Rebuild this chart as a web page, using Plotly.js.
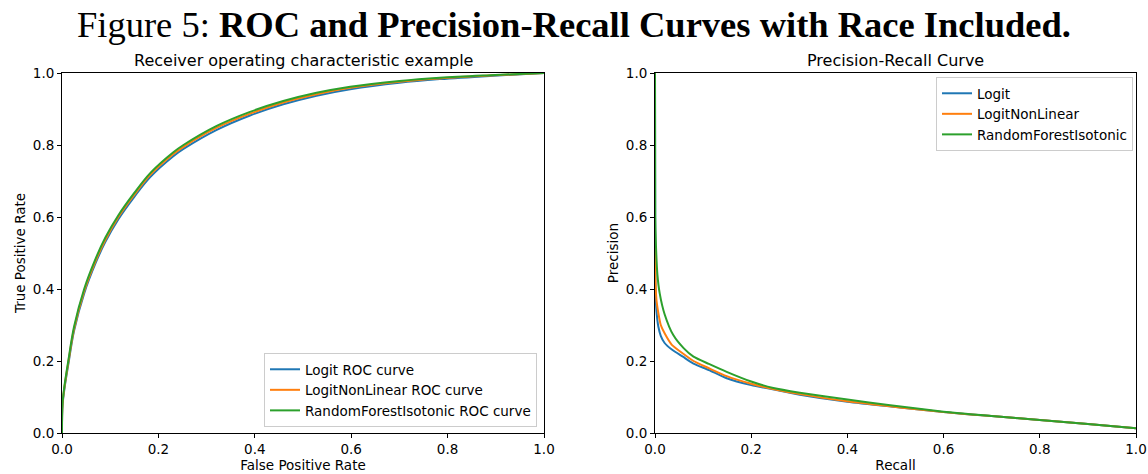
<!DOCTYPE html>
<html>
<head>
<meta charset="utf-8">
<script src="https://cdn.plot.ly/plotly-3.0.1.min.js"></script>
<style>html,body{margin:0;padding:0;background:#fff;}#chart{width:1148px;height:474px;}</style>
</head>
<body>
<div id="chart"></div>
<script>
// ROC curves (False Positive Rate vs True Positive Rate)
const rocFpr = [0, 0.001, 0.005, 0.013, 0.025, 0.046, 0.07, 0.09, 0.117, 0.15, 0.183, 0.231, 0.252, 0.321, 0.39, 0.459, 0.528, 0.598, 0.70, 0.784, 0.888, 1.0];
const rocTprLogit = [0, 0.075, 0.122, 0.19, 0.284, 0.388, 0.473, 0.531, 0.594, 0.656, 0.711, 0.769, 0.789, 0.842, 0.882, 0.913, 0.937, 0.955, 0.973, 0.983, 0.992, 1.0];
const rocTprLogitNL = [0, 0.078, 0.126, 0.195, 0.289, 0.394, 0.479, 0.537, 0.600, 0.662, 0.717, 0.775, 0.795, 0.848, 0.887, 0.918, 0.941, 0.959, 0.976, 0.985, 0.993, 1.0];
const rocTprRF = [0, 0.08, 0.13, 0.2, 0.295, 0.40, 0.485, 0.543, 0.605, 0.667, 0.722, 0.780, 0.800, 0.853, 0.892, 0.922, 0.945, 0.962, 0.978, 0.987, 0.994, 1.0];

// Precision-Recall curves
const prRecallLogit = [0, 0.0003, 0.001, 0.003, 0.007, 0.012, 0.02, 0.035, 0.058, 0.08, 0.112, 0.149, 0.2, 0.25, 0.301, 0.4, 0.509, 0.6, 0.7, 0.8, 0.9, 1.0];
const prPrecLogit   = [1.0, 0.71, 0.40, 0.34, 0.295, 0.27, 0.25, 0.232, 0.212, 0.193, 0.175, 0.152, 0.133, 0.12, 0.106, 0.087, 0.071, 0.058, 0.047, 0.036, 0.025, 0.013];
const prRecallLogitNL = [0, 0.0005, 0.003, 0.007, 0.012, 0.02, 0.035, 0.058, 0.08, 0.112, 0.149, 0.2, 0.25, 0.301, 0.4, 0.509, 0.6, 0.7, 0.8, 0.9, 1.0];
const prPrecLogitNL   = [1.0, 0.45, 0.37, 0.333, 0.30, 0.277, 0.245, 0.221, 0.2, 0.18, 0.158, 0.137, 0.121, 0.108, 0.088, 0.071, 0.058, 0.047, 0.036, 0.025, 0.013];
const prRecallRF = [0, 0.0005, 0.002, 0.005, 0.0098, 0.02, 0.038, 0.06, 0.08, 0.112, 0.149, 0.2, 0.246, 0.301, 0.4, 0.489, 0.6, 0.7, 0.8, 0.9, 1.0];
const prPrecRF   = [1.0, 0.6, 0.52, 0.44, 0.388, 0.33, 0.272, 0.235, 0.212, 0.192, 0.170, 0.143, 0.125, 0.112, 0.093, 0.077, 0.059, 0.047, 0.036, 0.025, 0.013];

const rocNames = ["Logit ROC curve", "LogitNonLinear ROC curve", "RandomForestIsotonic ROC curve"];
const prNames = ["Logit", "LogitNonLinear", "RandomForestIsotonic"];
const colors = ["#1f77b4", "#ff7f0e", "#2ca02c"];
const tickVals = [0, 0.2, 0.4, 0.6, 0.8, 1.0];
const tickText = ["0.0", "0.2", "0.4", "0.6", "0.8", "1.0"];

const rocY = [rocTprLogit, rocTprLogitNL, rocTprRF];
const prX = [prRecallLogit, prRecallLogitNL, prRecallRF];
const prY = [prPrecLogit, prPrecLogitNL, prPrecRF];

const traces = [];
for (let i = 0; i < 3; i++) {
  traces.push({x: rocFpr, y: rocY[i], type: 'scatter', mode: 'lines', name: rocNames[i],
    line: {color: colors[i], width: 2, shape: 'spline', smoothing: 1}, xaxis: 'x', yaxis: 'y', legend: 'legend'});
}
for (let i = 0; i < 3; i++) {
  traces.push({x: prX[i], y: prY[i], type: 'scatter', mode: 'lines', name: prNames[i],
    line: {color: colors[i], width: 2, shape: 'spline', smoothing: 0.6}, xaxis: 'x2', yaxis: 'y2', legend: 'legend2'});
}

const font = {family: 'DejaVu Sans, sans-serif', size: 13.5, color: '#000'};
function ax(domain, anchor, title) {
  return {domain: domain, anchor: anchor, range: [0, 1], tickvals: tickVals, ticktext: tickText,
    ticks: 'outside', ticklen: 4, tickwidth: 1, tickcolor: '#000', showgrid: false, zeroline: false,
    showline: true, linecolor: '#000', linewidth: 1, mirror: true,
    tickfont: font, title: {text: title, font: font, standoff: 4}};
}
const xd1 = [62/1148, 544/1148], xd2 = [655/1148, 1136/1148];
const yd = [(474-433)/474, (474-73)/474];

const layout = {
  width: 1148, height: 474,
  margin: {l: 0, r: 0, t: 0, b: 0},
  paper_bgcolor: '#fff', plot_bgcolor: '#fff',
  showlegend: true,
  xaxis: ax(xd1, 'y', 'False Positive Rate'),
  yaxis: ax(yd, 'x', 'True Positive Rate'),
  xaxis2: ax(xd2, 'y2', 'Recall'),
  yaxis2: ax(yd, 'x2', 'Precision'),
  legend: {x: 537/1148, y: (474-427)/474, xanchor: 'right', yanchor: 'bottom',
    bordercolor: '#cccccc', borderwidth: 1, bgcolor: 'rgba(255,255,255,0.8)', font: font, tracegroupgap: 0},
  legend2: {x: 1133/1148, y: (474-77)/474, xanchor: 'right', yanchor: 'top',
    bordercolor: '#cccccc', borderwidth: 1, bgcolor: 'rgba(255,255,255,0.8)', font: font, tracegroupgap: 0},
  annotations: [
    {text: 'Figure 5: <b>ROC and Precision-Recall Curves with Race Included.</b>', xref: 'paper', yref: 'paper',
      x: 0.5, y: (474-24)/474, xanchor: 'center', yanchor: 'middle', showarrow: false,
      font: {family: 'Liberation Serif, DejaVu Serif, serif', size: 36.5, color: '#000'}},
    {text: 'Receiver operating characteristic example', xref: 'paper', yref: 'paper',
      x: (xd1[0]+xd1[1])/2, y: (474-61)/474, xanchor: 'center', yanchor: 'middle', showarrow: false,
      font: {family: 'DejaVu Sans, sans-serif', size: 16, color: '#000'}},
    {text: 'Precision-Recall Curve', xref: 'paper', yref: 'paper',
      x: (xd2[0]+xd2[1])/2, y: (474-61)/474, xanchor: 'center', yanchor: 'middle', showarrow: false,
      font: {family: 'DejaVu Sans, sans-serif', size: 16, color: '#000'}}
  ]
};

Plotly.newPlot('chart', traces, layout, {displayModeBar: false, staticPlot: true});
</script>
</body>
</html>
